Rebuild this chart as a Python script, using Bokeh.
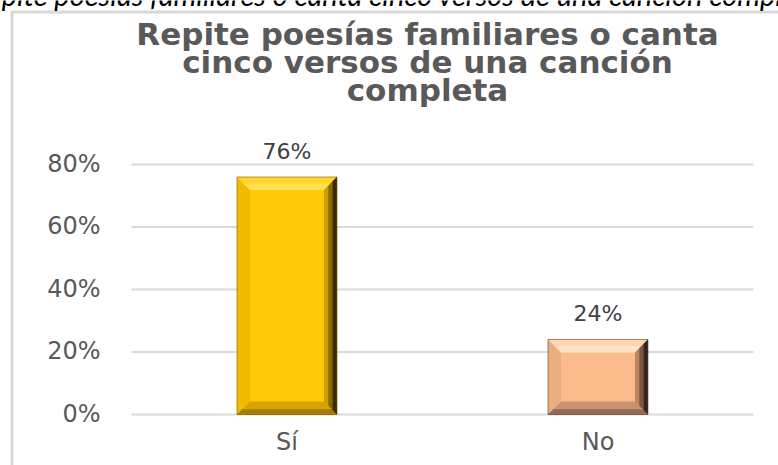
from bokeh.plotting import figure
from bokeh.models import Range1d, Label
from bokeh.embed import file_html
from bokeh.resources import INLINE

# ---- data ----
categories = ["Sí", "No"]
values = [0.76, 0.24]
value_labels = ["76%", "24%"]
y_ticks = [0.0, 0.2, 0.4, 0.6, 0.8]
y_tick_labels = ["0%", "20%", "40%", "60%", "80%"]
title_lines = ["Repite poesías familiares o canta",
               "cinco versos de una canción",
               "completa"]
caption = "Repite poesías familiares o canta cinco versos de una canción completa"

# ---- layout constants (pixels) ----
W, H = 778, 465
FL, FR, FB = 131, 753, 414          # plot area left/right, zero line
N = len(categories)
PX_PER_X = (FR - FL) / N
PX_PER_Y = 250 / 0.8
BASE_FIX = 0.36                     # baseline correction of the svg text, in em


def xd(px):
    return (px - FL) / PX_PER_X


def yd(py):
    return (FB - py) / PX_PER_Y


def up(size):
    return BASE_FIX * size / PX_PER_Y


p = figure(width=W, height=H, x_range=Range1d(xd(0), xd(W)), y_range=Range1d(yd(H), yd(0)),
           output_backend="svg", toolbar_location=None, title=None,
           x_axis_type=None, y_axis_type=None, min_border=0,
           styles={"position": "absolute", "top": "0px", "left": "0px"})
p.outline_line_color = None
p.background_fill_color = "white"
p.border_fill_color = "white"
p.grid.visible = False

# chart-area border (light grey, left and top)
p.line(x=[xd(11.5), xd(11.5), xd(900)], y=[yd(600), yd(11.5), yd(11.5)],
       line_color="#D9D9D9", line_width=3)

# horizontal gridlines
p.segment(x0=[xd(FL)] * len(y_ticks), x1=[xd(FR)] * len(y_ticks), y0=y_ticks, y1=y_ticks,
          line_color="#D9D9D9", line_width=2)

# y tick labels
p.text(x=[xd(100)] * len(y_ticks), y=[t - 8 / PX_PER_Y + up(24) for t in y_ticks], text=y_tick_labels,
       text_align="right", text_baseline="alphabetic", text_font={"value": "DejaVu Sans"},
       text_font_size="24px", text_color="#595959")

# category labels
cx = [i + 0.5 for i in range(N)]
p.text(x=cx, y=[yd(450) + up(24)] * N, text=categories, text_align="center", text_baseline="alphabetic",
       text_font={"value": "DejaVu Sans"}, text_font_size="24px", text_color="#595959")

# bars with bevel
BW = 100 / PX_PER_X
BX = 13 / PX_PER_X
BY = 13 / PX_PER_Y
palettes = [
    dict(face="#FFC906", top="#FFD52A", top_in="#FFE050", left="#F0BA00",
         right=["#D09C00", "#8A6800", "#3A2C00"], bottom=["#D8A300", "#A57B00"],
         edge="#7A5C00"),
    dict(face="#FBBB8B", top="#FFD6AE", top_in="#FFE3C6", left="#EDAD80",
         right=["#BD865F", "#7A563F", "#34261B"], bottom=["#C99273", "#8F6B53"],
         edge="#5A4030"),
]

for i, v in enumerate(values):
    c = cx[i]
    L, R, T, B = c - BW / 2, c + BW / 2, v, 0.0
    pal = palettes[i]
    p.quad(left=[L], right=[R], bottom=[B], top=[T], fill_color=pal["face"], line_color=None)
    # left bevel
    p.patch([L, L, L + BX, L + BX], [B, T, T - BY, B + BY], fill_color=pal["left"], line_color=None)
    # top bevel
    p.patch([L, R, R - BX, L + BX], [T, T, T - BY, T - BY], fill_color=pal["top"], line_color=None)
    p.patch([L + BX * 0.5, R - BX * 0.5, R - BX, L + BX], [T - BY * 0.5, T - BY * 0.5, T - BY, T - BY],
            fill_color=pal["top_in"], line_color=None)
    # bottom bevel
    p.patch([L, R, R - BX, L + BX], [B, B, B + BY, B + BY], fill_color=pal["bottom"][0], line_color=None)
    p.patch([L, R, R - BX * 0.4, L + BX * 0.4], [B, B, B + BY * 0.4, B + BY * 0.4],
            fill_color=pal["bottom"][1], line_color=None)
    # right bevel (layered gradient)
    for k, col in enumerate(pal["right"]):
        f = 1 - k / 3
        p.patch([R, R, R - BX * f, R - BX * f], [B, T, T - BY * f, B + BY * f],
                fill_color=col, line_color=None)
    # outline
    p.quad(left=[L], right=[R], bottom=[B], top=[T], fill_color=None,
           line_color=pal["edge"], line_width=1, line_alpha=0.6)

# value labels
p.text(x=cx, y=[v + 18 / PX_PER_Y + up(22) for v in values], text=value_labels,
       text_align="center", text_baseline="alphabetic", text_font={"value": "DejaVu Sans"},
       text_font_size="22px", text_color="#404040")

# title lines
p.text(x=[xd(427)] * len(title_lines), y=[yd(b) + up(31) for b in [45, 73, 101]], text=title_lines,
       text_align="center", text_baseline="alphabetic", text_font={"value": "DejaVu Sans"},
       text_font_style="bold", text_font_size="31px", text_color="#595959")

# caption (cut off at the top edge, as in the source)
p.add_layout(Label(x=xd(396), y=yd(4) + up(29), text=caption, text_align="center",
                   text_baseline="alphabetic", text_font="Lato",
                   text_font_style="italic", text_font_size="29px", text_color="#000000"))

open("out.html", "w").write(file_html(p, INLINE))
